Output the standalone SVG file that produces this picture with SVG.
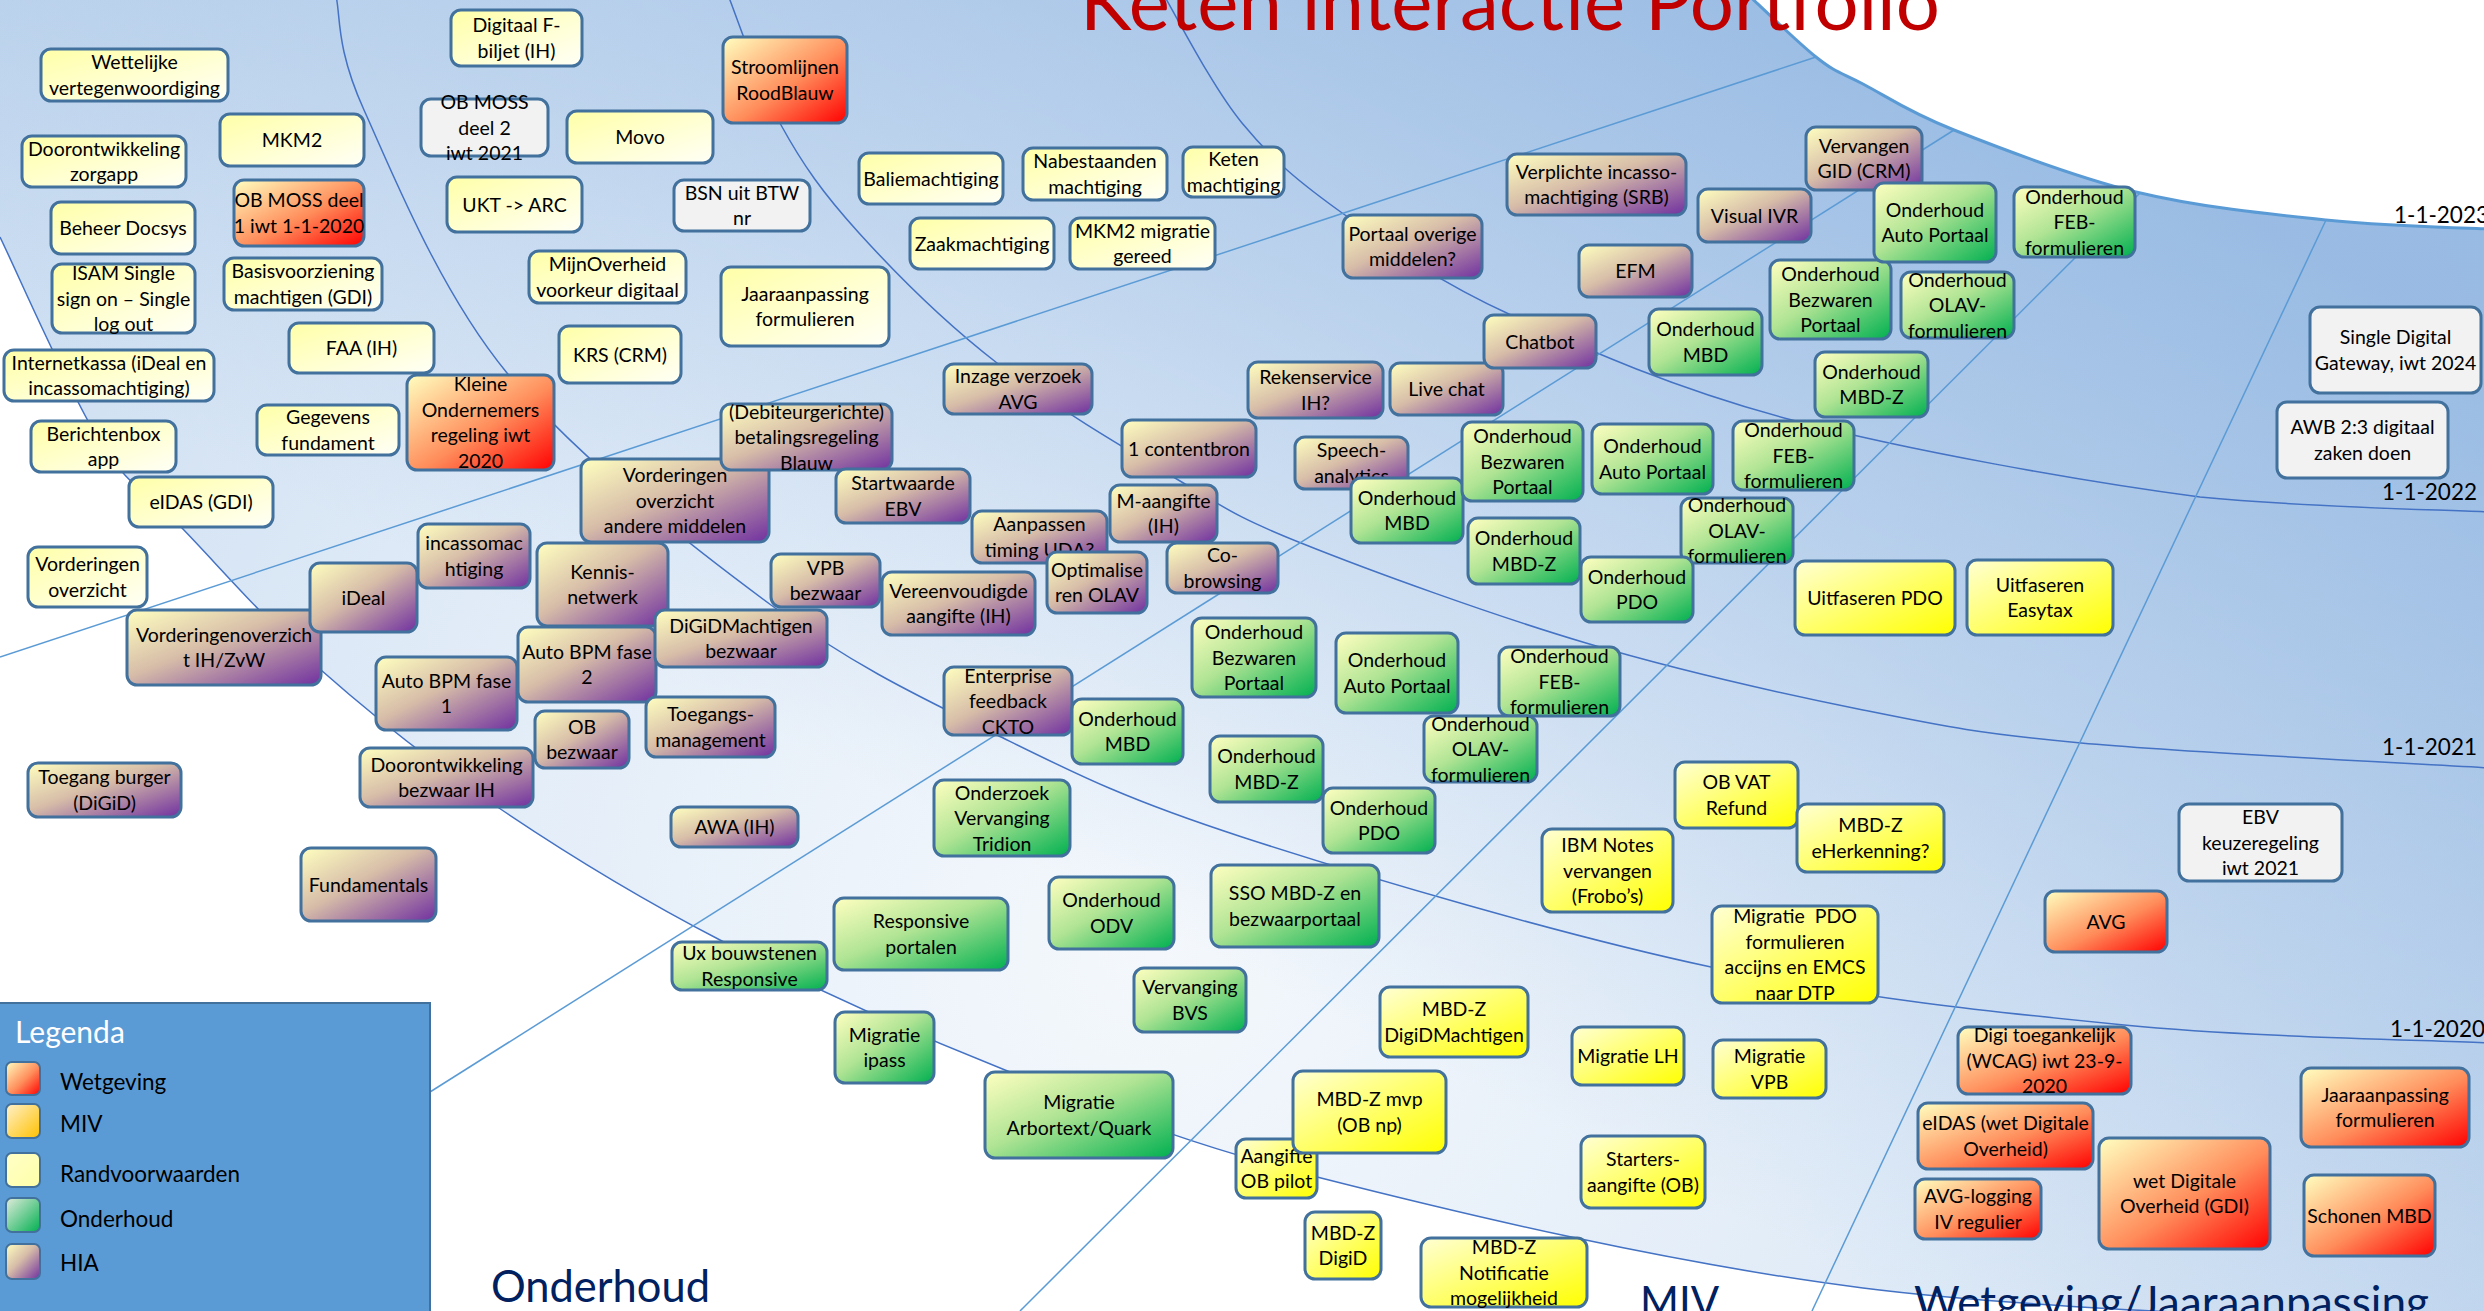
<svg xmlns="http://www.w3.org/2000/svg" width="2484" height="1311" viewBox="0 0 2484 1311">
<defs>
<radialGradient id="bg" gradientUnits="userSpaceOnUse" cx="1150" cy="950" r="1500">
<stop offset="0" stop-color="#f4f8fc"/><stop offset="0.45" stop-color="#e3edf8"/><stop offset="1" stop-color="#c8dbf0"/>
</radialGradient>
<linearGradient id="bg2" gradientUnits="userSpaceOnUse" x1="1800" y1="0" x2="1300" y2="1000">
<stop offset="0" stop-color="#8db3e0" stop-opacity="0.8"/><stop offset="1" stop-color="#8db3e0" stop-opacity="0"/>
</linearGradient>
<linearGradient id="gY" x1="0" y1="0" x2="1" y2="1"><stop offset="0" stop-color="#ffffa8"/><stop offset="1" stop-color="#fffff7"/></linearGradient>
<linearGradient id="gR" x1="0" y1="0" x2="1" y2="1"><stop offset="0" stop-color="#ffffc0"/><stop offset="0.55" stop-color="#ff8c5a"/><stop offset="1" stop-color="#ff0000"/></linearGradient>
<linearGradient id="gM" x1="0" y1="0" x2="1" y2="1"><stop offset="0" stop-color="#ffffd4"/><stop offset="1" stop-color="#ffff00"/></linearGradient>
<linearGradient id="gG" x1="0" y1="0" x2="1" y2="1"><stop offset="0" stop-color="#ffffc0"/><stop offset="0.45" stop-color="#b0e494"/><stop offset="1" stop-color="#00b050"/></linearGradient>
<linearGradient id="gP" x1="0" y1="0" x2="1" y2="1"><stop offset="0" stop-color="#ffffc0"/><stop offset="0.45" stop-color="#d6bca8"/><stop offset="1" stop-color="#7030a0"/></linearGradient>
<linearGradient id="lM" x1="0" y1="0" x2="1" y2="1"><stop offset="0" stop-color="#fff2cc"/><stop offset="1" stop-color="#ffc000"/></linearGradient>
<linearGradient id="lY" x1="0" y1="0" x2="1" y2="1"><stop offset="0" stop-color="#ffffc8"/><stop offset="1" stop-color="#ffffa8"/></linearGradient>
<linearGradient id="lG" x1="0" y1="0" x2="1" y2="1"><stop offset="0" stop-color="#e2ecdc"/><stop offset="1" stop-color="#00b050"/></linearGradient>
</defs>
<style>
.arc{fill:none;stroke:#4472c4;stroke-width:1.5}
.sp{fill:none;stroke:#5b9bd5;stroke-width:1.5}
.n rect{stroke:#41719c;stroke-width:3}
.n text{font-family:Lato,"Liberation Sans",sans-serif;font-size:19.5px;fill:#000;text-anchor:middle}
.y{fill:url(#gY)} .r{fill:url(#gR)} .m{fill:url(#gM)} .g{fill:url(#gG)} .p{fill:url(#gP)} .w{fill:#f2f2f2}
.dt{font-family:Lato,"Liberation Sans",sans-serif;font-size:24px;fill:#000}
.zone{font-family:Lato,"Liberation Sans",sans-serif;font-size:44px;fill:#002060}
.lg text{font-family:Lato,"Liberation Sans",sans-serif;font-size:22.5px;fill:#000}
.lg .ic{stroke:#41719c;stroke-width:2}
</style>
<rect width="2484" height="1311" fill="#ffffff"/>
<g id="background">
<path id="band" fill="url(#bg)" d="M0,-10 L1743,-10 C1755,1 1796,41 1816,57 C1836,73 1840,72 1863,84 C1886,96 1908,112 1954,130 C1999.5,148 2074,177 2136,192 C2198,207 2267,214 2326,220 C2385,226 2463,228 2490,229 L2490,1326 C2385.5,1319.7 2057.8,1312.7 1863,1288 C1668.2,1263.3 1464,1214.3 1321,1178 C1178,1141.7 1105.2,1109.7 1005,1070 C904.8,1030.3 804.3,983.7 720,940 C635.7,896.3 565.5,853 499,808 C432.5,763 373.8,716.7 321,670 C268.2,623.3 219,566.3 182,528 C145,489.7 129.3,488.5 99,440 C68.7,391.5 16.5,270.8 0,237 Z"/>
<path fill="url(#bg2)" d="M0,-10 L1743,-10 C1755,1 1796,41 1816,57 C1836,73 1840,72 1863,84 C1886,96 1908,112 1954,130 C1999.5,148 2074,177 2136,192 C2198,207 2267,214 2326,220 C2385,226 2463,228 2490,229 L2490,1326 C2385.5,1319.7 2057.8,1312.7 1863,1288 C1668.2,1263.3 1464,1214.3 1321,1178 C1178,1141.7 1105.2,1109.7 1005,1070 C904.8,1030.3 804.3,983.7 720,940 C635.7,896.3 565.5,853 499,808 C432.5,763 373.8,716.7 321,670 C268.2,623.3 219,566.3 182,528 C145,489.7 129.3,488.5 99,440 C68.7,391.5 16.5,270.8 0,237 Z"/>
</g>
<g id="connectors">
<path class="arc" d="M1162,-8 C1175.3,13.8 1211.5,85.8 1242,123 C1272.5,160.2 1300.2,183 1345,215 C1389.8,247 1436.5,280.8 1511,315 C1585.5,349.2 1677.2,389.7 1792,420 C1906.8,450.3 2083.7,481.7 2200,497 C2316,508 2441.7,509.5 2490,512"/>
<path class="arc" d="M728,-5 C736.8,16.7 759.2,85.3 781,125 C802.8,164.7 823,193.3 859,233 C895,272.7 944.3,322.2 997,363 C1049.7,403.8 1124.3,448 1175,478 C1225.7,508 1232.5,515.5 1301,543 C1369.5,570.5 1492.3,615.2 1586,643 C1679.7,670.8 1780.5,693.3 1863,710 C1945.5,726.7 1976.5,733.3 2081,743 C2185.5,752.7 2421.8,763.8 2490,768"/>
<path class="arc" d="M336,-4 C340.7,15 335.5,47.2 364,110 C392.5,172.8 439.2,290.5 507,373 C574.8,455.5 689.3,544.7 771,605 C852.7,665.3 918.5,696.3 997,735 C1075.5,773.7 1123,798.3 1242,837 C1361,875.7 1564,935.7 1711,967 C1858,998.3 1994.2,1012.3 2124,1025 C2253.8,1037.7 2429,1040 2490,1043"/>
<path class="arc" d="M0,237 C16.5,270.8 68.7,391.5 99,440 C129.3,488.5 145,489.7 182,528 C219,566.3 268.2,623.3 321,670 C373.8,716.7 432.5,763 499,808 C565.5,853 635.7,896.3 720,940 C804.3,983.7 904.8,1030.3 1005,1070 C1105.2,1109.7 1178,1141.7 1321,1178 C1464,1214.3 1668.2,1263.3 1863,1288 C2057.8,1312.7 2385.5,1319.7 2490,1326"/>
<path class="sp" d="M1816,57 L0,657"/>
<path class="sp" d="M1954,130 L430,1092"/>
<path class="sp" d="M2140,193 L1020,1311"/>
<path class="sp" d="M2326,220 L1812,1311"/>
<path fill="none" stroke="#5b9bd5" stroke-width="3" d="M1743,-10 C1755,1 1796,41 1816,57 C1836,73 1840,72 1863,84 C1886,96 1908,112 1954,130 C1999.5,148 2074,177 2136,192 C2198,207 2267,214 2326,220 C2385,226 2463,228 2490,229"/>
</g>
<g id="zone-labels">
<text class="dt" x="2394" y="223" textLength="95" lengthAdjust="spacingAndGlyphs">1-1-2023</text>
<text class="dt" x="2382" y="500" textLength="95" lengthAdjust="spacingAndGlyphs">1-1-2022</text>
<text class="dt" x="2382" y="755" textLength="95" lengthAdjust="spacingAndGlyphs">1-1-2021</text>
<text class="dt" x="2390" y="1037" textLength="95" lengthAdjust="spacingAndGlyphs">1-1-2020</text>
<text class="zone" x="491" y="1302" textLength="219" lengthAdjust="spacingAndGlyphs">Onderhoud</text>
<text class="zone" x="1640" y="1318" textLength="79" lengthAdjust="spacingAndGlyphs">MIV</text>
<text class="zone" x="1914" y="1318" textLength="515" lengthAdjust="spacingAndGlyphs">Wetgeving/Jaaraanpassing</text>
</g>
<g id="nodes">
<g id="n1" class="n"><rect class="y" x="41" y="49" width="187" height="52" rx="10"/><text><tspan x="134.5" y="69.3">Wettelijke</tspan><tspan x="134.5" y="94.8">vertegenwoordiging</tspan></text></g>
<g id="n2" class="n"><rect class="y" x="451" y="10" width="131" height="56" rx="10"/><text><tspan x="516.5" y="32.3">Digitaal F-</tspan><tspan x="516.5" y="57.8">biljet (IH)</tspan></text></g>
<g id="n3" class="n"><rect class="y" x="220" y="114" width="144" height="52" rx="10"/><text><tspan x="292" y="147">MKM2</tspan></text></g>
<g id="n4" class="n"><rect class="y" x="22" y="136" width="164" height="51" rx="10"/><text><tspan x="104" y="155.8">Doorontwikkeling</tspan><tspan x="104" y="181.3">zorgapp</tspan></text></g>
<g id="n5" class="n"><rect class="w" x="421" y="99" width="127" height="57" rx="10"/><text><tspan x="484.5" y="109">OB MOSS</tspan><tspan x="484.5" y="134.5">deel 2</tspan><tspan x="484.5" y="160">iwt 2021</tspan></text></g>
<g id="n6" class="n"><rect class="r" x="234" y="180" width="130" height="66" rx="10"/><text><tspan x="299" y="207.3">OB MOSS deel</tspan><tspan x="299" y="232.8">1 iwt 1-1-2020</tspan></text></g>
<g id="n7" class="n"><rect class="y" x="447" y="177" width="135" height="55" rx="10"/><text><tspan x="514.5" y="211.5">UKT -&gt; ARC</tspan></text></g>
<g id="n8" class="n"><rect class="y" x="51" y="202" width="144" height="52" rx="10"/><text><tspan x="123" y="235">Beheer Docsys</tspan></text></g>
<g id="n9" class="n"><rect class="y" x="52" y="264" width="143" height="69" rx="10"/><text><tspan x="123.5" y="280">ISAM Single</tspan><tspan x="123.5" y="305.5">sign on – Single</tspan><tspan x="123.5" y="331">log out</tspan></text></g>
<g id="n10" class="n"><rect class="y" x="224" y="258" width="158" height="52" rx="10"/><text><tspan x="303" y="278.3">Basisvoorziening</tspan><tspan x="303" y="303.8">machtigen (GDI)</tspan></text></g>
<g id="n11" class="n"><rect class="y" x="529" y="251" width="157" height="52" rx="10"/><text><tspan x="607.5" y="271.3">MijnOverheid</tspan><tspan x="607.5" y="296.8">voorkeur digitaal</tspan></text></g>
<g id="n12" class="n"><rect class="y" x="289" y="323" width="145" height="50" rx="10"/><text><tspan x="361.5" y="355">FAA (IH)</tspan></text></g>
<g id="n13" class="n"><rect class="y" x="4" y="350" width="210" height="51" rx="10"/><text><tspan x="109" y="369.8">Internetkassa (iDeal en</tspan><tspan x="109" y="395.3">incassomachtiging)</tspan></text></g>
<g id="n14" class="n"><rect class="y" x="559" y="326" width="122" height="57" rx="10"/><text><tspan x="620" y="361.5">KRS (CRM)</tspan></text></g>
<g id="n15" class="n"><rect class="r" x="407" y="375" width="147" height="95" rx="10"/><text><tspan x="480.5" y="391.3">Kleine</tspan><tspan x="480.5" y="416.8">Ondernemers</tspan><tspan x="480.5" y="442.3">regeling iwt</tspan><tspan x="480.5" y="467.8">2020</tspan></text></g>
<g id="n16" class="n"><rect class="y" x="257" y="405" width="142" height="50" rx="10"/><text><tspan x="328" y="424.3">Gegevens</tspan><tspan x="328" y="449.8">fundament</tspan></text></g>
<g id="n17" class="n"><rect class="y" x="31" y="421" width="145" height="51" rx="10"/><text><tspan x="103.5" y="440.8">Berichtenbox</tspan><tspan x="103.5" y="466.3">app</tspan></text></g>
<g id="n18" class="n"><rect class="r" x="723" y="37" width="124" height="86" rx="10"/><text><tspan x="785" y="74.3">Stroomlijnen</tspan><tspan x="785" y="99.8">RoodBlauw</tspan></text></g>
<g id="n19" class="n"><rect class="y" x="567" y="111" width="146" height="52" rx="10"/><text><tspan x="640" y="144">Movo</tspan></text></g>
<g id="n20" class="n"><rect class="w" x="674" y="180" width="136" height="51" rx="10"/><text><tspan x="742" y="199.8">BSN uit BTW</tspan><tspan x="742" y="225.3">nr</tspan></text></g>
<g id="n21" class="n"><rect class="y" x="859" y="153" width="144" height="51" rx="10"/><text><tspan x="931" y="185.5">Baliemachtiging</tspan></text></g>
<g id="n22" class="n"><rect class="y" x="1023" y="148" width="144" height="52" rx="10"/><text><tspan x="1095" y="168.3">Nabestaanden</tspan><tspan x="1095" y="193.8">machtiging</tspan></text></g>
<g id="n23" class="n"><rect class="y" x="1183" y="147" width="101" height="50" rx="10"/><text><tspan x="1233.5" y="166.3">Keten</tspan><tspan x="1233.5" y="191.8">machtiging</tspan></text></g>
<g id="n24" class="n"><rect class="y" x="910" y="218" width="144" height="51" rx="10"/><text><tspan x="982" y="250.5">Zaakmachtiging</tspan></text></g>
<g id="n25" class="n"><rect class="y" x="1070" y="218" width="145" height="51" rx="10"/><text><tspan x="1142.5" y="237.8">MKM2 migratie</tspan><tspan x="1142.5" y="263.3">gereed</tspan></text></g>
<g id="n26" class="n"><rect class="y" x="721" y="267" width="168" height="79" rx="10"/><text><tspan x="805" y="300.8">Jaaraanpassing</tspan><tspan x="805" y="326.3">formulieren</tspan></text></g>
<g id="n27" class="n"><rect class="p" x="944" y="364" width="148" height="50" rx="10"/><text><tspan x="1018" y="383.3">Inzage verzoek</tspan><tspan x="1018" y="408.8">AVG</tspan></text></g>
<g id="n51" class="n"><rect class="p" x="581" y="459" width="188" height="83" rx="10"/><text><tspan x="675" y="482">Vorderingen</tspan><tspan x="675" y="507.5">overzicht</tspan><tspan x="675" y="533">andere middelen</tspan></text></g>
<g id="n28" class="n"><rect class="p" x="721" y="404" width="171" height="66" rx="10"/><text><tspan x="806.5" y="418.5">(Debiteurgerichte)</tspan><tspan x="806.5" y="444">betalingsregeling</tspan><tspan x="806.5" y="469.5">Blauw</tspan></text></g>
<g id="n29" class="n"><rect class="p" x="1507" y="154" width="179" height="61" rx="10"/><text><tspan x="1596.5" y="178.8">Verplichte incasso-</tspan><tspan x="1596.5" y="204.3">machtiging (SRB)</tspan></text></g>
<g id="n30" class="n"><rect class="p" x="1806" y="127" width="116" height="63" rx="10"/><text><tspan x="1864" y="152.8">Vervangen</tspan><tspan x="1864" y="178.3">GID (CRM)</tspan></text></g>
<g id="n31" class="n"><rect class="p" x="1698" y="189" width="113" height="53" rx="10"/><text><tspan x="1754.5" y="222.5">Visual IVR</tspan></text></g>
<g id="n32" class="n"><rect class="p" x="1343" y="215" width="139" height="63" rx="10"/><text><tspan x="1412.5" y="240.8">Portaal overige</tspan><tspan x="1412.5" y="266.3">middelen?</tspan></text></g>
<g id="n33" class="n"><rect class="p" x="1579" y="245" width="113" height="52" rx="10"/><text><tspan x="1635.5" y="278">EFM</tspan></text></g>
<g id="n37" class="n"><rect class="p" x="1390" y="363" width="113" height="52" rx="10"/><text><tspan x="1446.5" y="396">Live chat</tspan></text></g>
<g id="n34" class="n"><rect class="p" x="1484" y="315" width="112" height="53" rx="10"/><text><tspan x="1540" y="348.5">Chatbot</tspan></text></g>
<g id="n35" class="n"><rect class="g" x="1649" y="309" width="113" height="66" rx="10"/><text><tspan x="1705.5" y="336.3">Onderhoud</tspan><tspan x="1705.5" y="361.8">MBD</tspan></text></g>
<g id="n36" class="n"><rect class="p" x="1248" y="362" width="135" height="56" rx="10"/><text><tspan x="1315.5" y="384.3">Rekenservice</tspan><tspan x="1315.5" y="409.8">IH?</tspan></text></g>
<g id="n38" class="n"><rect class="g" x="1770" y="260" width="121" height="79" rx="10"/><text><tspan x="1830.5" y="281">Onderhoud</tspan><tspan x="1830.5" y="306.5">Bezwaren</tspan><tspan x="1830.5" y="332">Portaal</tspan></text></g>
<g id="n39" class="n"><rect class="g" x="1815" y="352" width="113" height="65" rx="10"/><text><tspan x="1871.5" y="378.8">Onderhoud</tspan><tspan x="1871.5" y="404.3">MBD-Z</tspan></text></g>
<g id="n40" class="n"><rect class="g" x="1874" y="183" width="122" height="79" rx="10"/><text><tspan x="1935" y="216.8">Onderhoud</tspan><tspan x="1935" y="242.3">Auto Portaal</tspan></text></g>
<g id="n41" class="n"><rect class="g" x="2014" y="187" width="121" height="70" rx="10"/><text><tspan x="2074.5" y="203.5">Onderhoud</tspan><tspan x="2074.5" y="229">FEB-</tspan><tspan x="2074.5" y="254.5">formulieren</tspan></text></g>
<g id="n42" class="n"><rect class="g" x="1901" y="272" width="113" height="66" rx="10"/><text><tspan x="1957.5" y="286.5">Onderhoud</tspan><tspan x="1957.5" y="312">OLAV-</tspan><tspan x="1957.5" y="337.5">formulieren</tspan></text></g>
<g id="n43" class="n"><rect class="w" x="2310" y="307" width="171" height="86" rx="10"/><text><tspan x="2395.5" y="344.3">Single Digital</tspan><tspan x="2395.5" y="369.8">Gateway, iwt 2024</tspan></text></g>
<g id="n44" class="n"><rect class="w" x="2277" y="402" width="171" height="76" rx="10"/><text><tspan x="2362.5" y="434.3">AWB 2:3 digitaal</tspan><tspan x="2362.5" y="459.8">zaken doen</tspan></text></g>
<g id="n45" class="n"><rect class="y" x="129" y="477" width="144" height="50" rx="10"/><text><tspan x="201" y="509">eIDAS (GDI)</tspan></text></g>
<g id="n46" class="n"><rect class="y" x="28" y="547" width="119" height="60" rx="10"/><text><tspan x="87.5" y="571.3">Vorderingen</tspan><tspan x="87.5" y="596.8">overzicht</tspan></text></g>
<g id="n47" class="n"><rect class="p" x="418" y="524" width="112" height="64" rx="10"/><text><tspan x="474" y="550.3">incassomac</tspan><tspan x="474" y="575.8">htiging</tspan></text></g>
<g id="n49" class="n"><rect class="p" x="127" y="610" width="194" height="75" rx="10"/><text><tspan x="224" y="641.8">Vorderingenoverzich</tspan><tspan x="224" y="667.3">t IH/ZvW</tspan></text></g>
<g id="n48" class="n"><rect class="p" x="310" y="563" width="107" height="69" rx="10"/><text><tspan x="363.5" y="604.5">iDeal</tspan></text></g>
<g id="n50" class="n"><rect class="p" x="537" y="543" width="131" height="83" rx="10"/><text><tspan x="602.5" y="578.8">Kennis-</tspan><tspan x="602.5" y="604.3">netwerk</tspan></text></g>
<g id="n52" class="n"><rect class="p" x="376" y="657" width="141" height="73" rx="10"/><text><tspan x="446.5" y="687.8">Auto BPM fase</tspan><tspan x="446.5" y="713.3">1</tspan></text></g>
<g id="n53" class="n"><rect class="p" x="518" y="627" width="138" height="75" rx="10"/><text><tspan x="587" y="658.8">Auto BPM fase</tspan><tspan x="587" y="684.3">2</tspan></text></g>
<g id="n54" class="n"><rect class="p" x="535" y="711" width="94" height="57" rx="10"/><text><tspan x="582" y="733.8">OB</tspan><tspan x="582" y="759.3">bezwaar</tspan></text></g>
<g id="n55" class="n"><rect class="p" x="360" y="748" width="173" height="59" rx="10"/><text><tspan x="446.5" y="771.8">Doorontwikkeling</tspan><tspan x="446.5" y="797.3">bezwaar IH</tspan></text></g>
<g id="n56" class="n"><rect class="p" x="28" y="763" width="153" height="54" rx="10"/><text><tspan x="104.5" y="784.3">Toegang burger</tspan><tspan x="104.5" y="809.8">(DiGiD)</tspan></text></g>
<g id="n57" class="n"><rect class="p" x="301" y="848" width="135" height="73" rx="10"/><text><tspan x="368.5" y="891.5">Fundamentals</tspan></text></g>
<g id="n58" class="n"><rect class="p" x="836" y="469" width="134" height="54" rx="10"/><text><tspan x="903" y="490.3">Startwaarde</tspan><tspan x="903" y="515.8">EBV</tspan></text></g>
<g id="n59" class="n"><rect class="p" x="1122" y="420" width="134" height="57" rx="10"/><text><tspan x="1189" y="455.5">1 contentbron</tspan></text></g>
<g id="n60" class="n"><rect class="p" x="1110" y="485" width="107" height="57" rx="10"/><text><tspan x="1163.5" y="507.8">M-aangifte</tspan><tspan x="1163.5" y="533.3">(IH)</tspan></text></g>
<g id="n61" class="n"><rect class="p" x="972" y="511" width="135" height="52" rx="10"/><text><tspan x="1039.5" y="531.3">Aanpassen</tspan><tspan x="1039.5" y="556.8">timing UDA?</tspan></text></g>
<g id="n62" class="n"><rect class="p" x="1167" y="543" width="111" height="50" rx="10"/><text><tspan x="1222.5" y="562.3">Co-</tspan><tspan x="1222.5" y="587.8">browsing</tspan></text></g>
<g id="n63" class="n"><rect class="p" x="771" y="554" width="109" height="53" rx="10"/><text><tspan x="825.5" y="574.8">VPB</tspan><tspan x="825.5" y="600.3">bezwaar</tspan></text></g>
<g id="n64" class="n"><rect class="p" x="882" y="572" width="153" height="63" rx="10"/><text><tspan x="958.5" y="597.8">Vereenvoudigde</tspan><tspan x="958.5" y="623.3">aangifte (IH)</tspan></text></g>
<g id="n65" class="n"><rect class="p" x="1047" y="552" width="100" height="61" rx="10"/><text><tspan x="1097" y="576.8">Optimalise</tspan><tspan x="1097" y="602.3">ren OLAV</tspan></text></g>
<g id="n66" class="n"><rect class="p" x="655" y="610" width="172" height="57" rx="10"/><text><tspan x="741" y="632.8">DiGiDMachtigen</tspan><tspan x="741" y="658.3">bezwaar</tspan></text></g>
<g id="n67" class="n"><rect class="p" x="646" y="697" width="129" height="60" rx="10"/><text><tspan x="710.5" y="721.3">Toegangs-</tspan><tspan x="710.5" y="746.8">management</tspan></text></g>
<g id="n68" class="n"><rect class="p" x="944" y="667" width="128" height="68" rx="10"/><text><tspan x="1008" y="682.5">Enterprise</tspan><tspan x="1008" y="708">feedback</tspan><tspan x="1008" y="733.5">CKTO</tspan></text></g>
<g id="n69" class="n"><rect class="g" x="1072" y="699" width="111" height="65" rx="10"/><text><tspan x="1127.5" y="725.8">Onderhoud</tspan><tspan x="1127.5" y="751.3">MBD</tspan></text></g>
<g id="n70" class="n"><rect class="p" x="671" y="807" width="127" height="40" rx="10"/><text><tspan x="734.5" y="834">AWA (IH)</tspan></text></g>
<g id="n71" class="n"><rect class="g" x="934" y="780" width="136" height="76" rx="10"/><text><tspan x="1002" y="799.5">Onderzoek</tspan><tspan x="1002" y="825">Vervanging</tspan><tspan x="1002" y="850.5">Tridion</tspan></text></g>
<g id="n72" class="n"><rect class="p" x="1295" y="437" width="113" height="52" rx="10"/><text><tspan x="1351.5" y="457.3">Speech-</tspan><tspan x="1351.5" y="482.8">analytics</tspan></text></g>
<g id="n73" class="n"><rect class="g" x="1351" y="478" width="112" height="65" rx="10"/><text><tspan x="1407" y="504.8">Onderhoud</tspan><tspan x="1407" y="530.3">MBD</tspan></text></g>
<g id="n74" class="n"><rect class="g" x="1462" y="422" width="121" height="79" rx="10"/><text><tspan x="1522.5" y="443">Onderhoud</tspan><tspan x="1522.5" y="468.5">Bezwaren</tspan><tspan x="1522.5" y="494">Portaal</tspan></text></g>
<g id="n75" class="n"><rect class="g" x="1592" y="424" width="121" height="70" rx="10"/><text><tspan x="1652.5" y="453.3">Onderhoud</tspan><tspan x="1652.5" y="478.8">Auto Portaal</tspan></text></g>
<g id="n76" class="n"><rect class="g" x="1733" y="421" width="121" height="69" rx="10"/><text><tspan x="1793.5" y="437">Onderhoud</tspan><tspan x="1793.5" y="462.5">FEB-</tspan><tspan x="1793.5" y="488">formulieren</tspan></text></g>
<g id="n77" class="n"><rect class="g" x="1468" y="518" width="112" height="66" rx="10"/><text><tspan x="1524" y="545.3">Onderhoud</tspan><tspan x="1524" y="570.8">MBD-Z</tspan></text></g>
<g id="n78" class="n"><rect class="g" x="1681" y="498" width="112" height="65" rx="10"/><text><tspan x="1737" y="512">Onderhoud</tspan><tspan x="1737" y="537.5">OLAV-</tspan><tspan x="1737" y="563">formulieren</tspan></text></g>
<g id="n79" class="n"><rect class="g" x="1581" y="557" width="112" height="65" rx="10"/><text><tspan x="1637" y="583.8">Onderhoud</tspan><tspan x="1637" y="609.3">PDO</tspan></text></g>
<g id="n80" class="n"><rect class="m" x="1795" y="561" width="160" height="74" rx="10"/><text><tspan x="1875" y="605">Uitfaseren PDO</tspan></text></g>
<g id="n81" class="n"><rect class="m" x="1967" y="560" width="146" height="75" rx="10"/><text><tspan x="2040" y="591.8">Uitfaseren</tspan><tspan x="2040" y="617.3">Easytax</tspan></text></g>
<g id="n82" class="n"><rect class="g" x="1192" y="618" width="124" height="79" rx="10"/><text><tspan x="1254" y="639">Onderhoud</tspan><tspan x="1254" y="664.5">Bezwaren</tspan><tspan x="1254" y="690">Portaal</tspan></text></g>
<g id="n83" class="n"><rect class="g" x="1336" y="633" width="122" height="80" rx="10"/><text><tspan x="1397" y="667.3">Onderhoud</tspan><tspan x="1397" y="692.8">Auto Portaal</tspan></text></g>
<g id="n84" class="n"><rect class="g" x="1499" y="647" width="121" height="69" rx="10"/><text><tspan x="1559.5" y="663">Onderhoud</tspan><tspan x="1559.5" y="688.5">FEB-</tspan><tspan x="1559.5" y="714">formulieren</tspan></text></g>
<g id="n85" class="n"><rect class="g" x="1424" y="716" width="113" height="66" rx="10"/><text><tspan x="1480.5" y="730.5">Onderhoud</tspan><tspan x="1480.5" y="756">OLAV-</tspan><tspan x="1480.5" y="781.5">formulieren</tspan></text></g>
<g id="n86" class="n"><rect class="g" x="1210" y="736" width="113" height="66" rx="10"/><text><tspan x="1266.5" y="763.3">Onderhoud</tspan><tspan x="1266.5" y="788.8">MBD-Z</tspan></text></g>
<g id="n87" class="n"><rect class="g" x="1323" y="788" width="112" height="65" rx="10"/><text><tspan x="1379" y="814.8">Onderhoud</tspan><tspan x="1379" y="840.3">PDO</tspan></text></g>
<g id="n88" class="n"><rect class="m" x="1675" y="762" width="123" height="66" rx="10"/><text><tspan x="1736.5" y="789.3">OB VAT</tspan><tspan x="1736.5" y="814.8">Refund</tspan></text></g>
<g id="n89" class="n"><rect class="m" x="1797" y="804" width="147" height="68" rx="10"/><text><tspan x="1870.5" y="832.3">MBD-Z</tspan><tspan x="1870.5" y="857.8">eHerkenning?</tspan></text></g>
<g id="n90" class="n"><rect class="m" x="1542" y="829" width="131" height="83" rx="10"/><text><tspan x="1607.5" y="852">IBM Notes</tspan><tspan x="1607.5" y="877.5">vervangen</tspan><tspan x="1607.5" y="903">(Frobo’s)</tspan></text></g>
<g id="n91" class="n"><rect class="w" x="2179" y="804" width="163" height="77" rx="10"/><text><tspan x="2260.5" y="824">EBV</tspan><tspan x="2260.5" y="849.5">keuzeregeling</tspan><tspan x="2260.5" y="875">iwt 2021</tspan></text></g>
<g id="n92" class="n"><rect class="g" x="672" y="942" width="155" height="48" rx="10"/><text><tspan x="749.5" y="960.3">Ux bouwstenen</tspan><tspan x="749.5" y="985.8">Responsive</tspan></text></g>
<g id="n93" class="n"><rect class="g" x="834" y="898" width="174" height="72" rx="10"/><text><tspan x="921" y="928.3">Responsive</tspan><tspan x="921" y="953.8">portalen</tspan></text></g>
<g id="n94" class="n"><rect class="g" x="1049" y="877" width="125" height="72" rx="10"/><text><tspan x="1111.5" y="907.3">Onderhoud</tspan><tspan x="1111.5" y="932.8">ODV</tspan></text></g>
<g id="n95" class="n"><rect class="g" x="835" y="1012" width="99" height="71" rx="10"/><text><tspan x="884.5" y="1041.8">Migratie</tspan><tspan x="884.5" y="1067.3">ipass</tspan></text></g>
<g id="n96" class="n"><rect class="g" x="985" y="1072" width="188" height="86" rx="10"/><text><tspan x="1079" y="1109.3">Migratie</tspan><tspan x="1079" y="1134.8">Arbortext/Quark</tspan></text></g>
<g id="n97" class="n"><rect class="g" x="1134" y="968" width="112" height="64" rx="10"/><text><tspan x="1190" y="994.3">Vervanging</tspan><tspan x="1190" y="1019.8">BVS</tspan></text></g>
<g id="n98" class="n"><rect class="g" x="1211" y="865" width="168" height="82" rx="10"/><text><tspan x="1295" y="900.3">SSO MBD-Z en</tspan><tspan x="1295" y="925.8">bezwaarportaal</tspan></text></g>
<g id="n99" class="n"><rect class="m" x="1380" y="987" width="148" height="70" rx="10"/><text><tspan x="1454" y="1016.3">MBD-Z</tspan><tspan x="1454" y="1041.8">DigiDMachtigen</tspan></text></g>
<g id="n101" class="n"><rect class="m" x="1236" y="1139" width="81" height="59" rx="10"/><text><tspan x="1276.5" y="1162.8">Aangifte</tspan><tspan x="1276.5" y="1188.3">OB pilot</tspan></text></g>
<g id="n100" class="n"><rect class="m" x="1293" y="1071" width="153" height="82" rx="10"/><text><tspan x="1369.5" y="1106.3">MBD-Z mvp</tspan><tspan x="1369.5" y="1131.8">(OB np)</tspan></text></g>
<g id="n102" class="n"><rect class="m" x="1572" y="1027" width="112" height="58" rx="10"/><text><tspan x="1628" y="1063">Migratie LH</tspan></text></g>
<g id="n103" class="n"><rect class="m" x="1713" y="1040" width="113" height="58" rx="10"/><text><tspan x="1769.5" y="1063.3">Migratie</tspan><tspan x="1769.5" y="1088.8">VPB</tspan></text></g>
<g id="n104" class="n"><rect class="m" x="1712" y="906" width="166" height="97" rx="10"/><text><tspan x="1795" y="923.3">Migratie&#160; PDO</tspan><tspan x="1795" y="948.8">formulieren</tspan><tspan x="1795" y="974.3">accijns en EMCS</tspan><tspan x="1795" y="999.8">naar DTP</tspan></text></g>
<g id="n105" class="n"><rect class="m" x="1581" y="1136" width="124" height="72" rx="10"/><text><tspan x="1643" y="1166.3">Starters-</tspan><tspan x="1643" y="1191.8">aangifte (OB)</tspan></text></g>
<g id="n106" class="n"><rect class="m" x="1305" y="1212" width="76" height="67" rx="10"/><text><tspan x="1343" y="1239.8">MBD-Z</tspan><tspan x="1343" y="1265.3">DigiD</tspan></text></g>
<g id="n107" class="n"><rect class="m" x="1421" y="1238" width="166" height="69" rx="10"/><text><tspan x="1504" y="1254">MBD-Z</tspan><tspan x="1504" y="1279.5">Notificatie</tspan><tspan x="1504" y="1305">mogelijkheid</tspan></text></g>
<g id="n108" class="n"><rect class="r" x="2045" y="891" width="122" height="61" rx="10"/><text><tspan x="2106" y="928.5">AVG</tspan></text></g>
<g id="n109" class="n"><rect class="r" x="1958" y="1027" width="173" height="67" rx="10"/><text><tspan x="2044.5" y="1042">Digi toegankelijk</tspan><tspan x="2044.5" y="1067.5">(WCAG) iwt 23-9-</tspan><tspan x="2044.5" y="1093">2020</tspan></text></g>
<g id="n110" class="n"><rect class="r" x="1918" y="1103" width="175" height="66" rx="10"/><text><tspan x="2005.5" y="1130.3">eIDAS (wet Digitale</tspan><tspan x="2005.5" y="1155.8">Overheid)</tspan></text></g>
<g id="n111" class="n"><rect class="r" x="1915" y="1179" width="126" height="60" rx="10"/><text><tspan x="1978" y="1203.3">AVG-logging</tspan><tspan x="1978" y="1228.8">IV regulier</tspan></text></g>
<g id="n112" class="n"><rect class="r" x="2099" y="1138" width="171" height="111" rx="10"/><text><tspan x="2184.5" y="1187.8">wet Digitale</tspan><tspan x="2184.5" y="1213.3">Overheid (GDI)</tspan></text></g>
<g id="n113" class="n"><rect class="r" x="2301" y="1068" width="168" height="79" rx="10"/><text><tspan x="2385" y="1101.8">Jaaraanpassing</tspan><tspan x="2385" y="1127.3">formulieren</tspan></text></g>
<g id="n114" class="n"><rect class="r" x="2304" y="1175" width="131" height="81" rx="10"/><text><tspan x="2369.5" y="1222.5">Schonen MBD</tspan></text></g>
</g>
<g id="legend" class="lg">
<rect x="-2" y="1003" width="432" height="312" fill="#5b9bd5" stroke="#41719c" stroke-width="2"/>
<text x="15" y="1043" style="font-size:30px;fill:#ffffff">Legenda</text>
<rect class="ic" x="6" y="1062" width="34" height="33" rx="6" fill="url(#gR)"/>
<text x="60" y="1090">Wetgeving</text>
<rect class="ic" x="6" y="1104" width="34" height="34" rx="6" fill="url(#lM)"/>
<text x="60" y="1132">MIV</text>
<rect class="ic" x="6" y="1153" width="34" height="34" rx="6" fill="url(#lY)"/>
<text x="60" y="1182">Randvoorwaarden</text>
<rect class="ic" x="6" y="1198" width="34" height="34" rx="6" fill="url(#lG)"/>
<text x="60" y="1227">Onderhoud</text>
<rect class="ic" x="6" y="1244" width="34" height="35" rx="6" fill="url(#gP)"/>
<text x="60" y="1271">HIA</text>
</g>
<text id="title" x="1080" y="30" textLength="860" lengthAdjust="spacingAndGlyphs" style="font-family:Lato,'Liberation Sans',sans-serif;font-size:78px;fill:#c00000">Keten interactie Portfolio</text>
</svg>
